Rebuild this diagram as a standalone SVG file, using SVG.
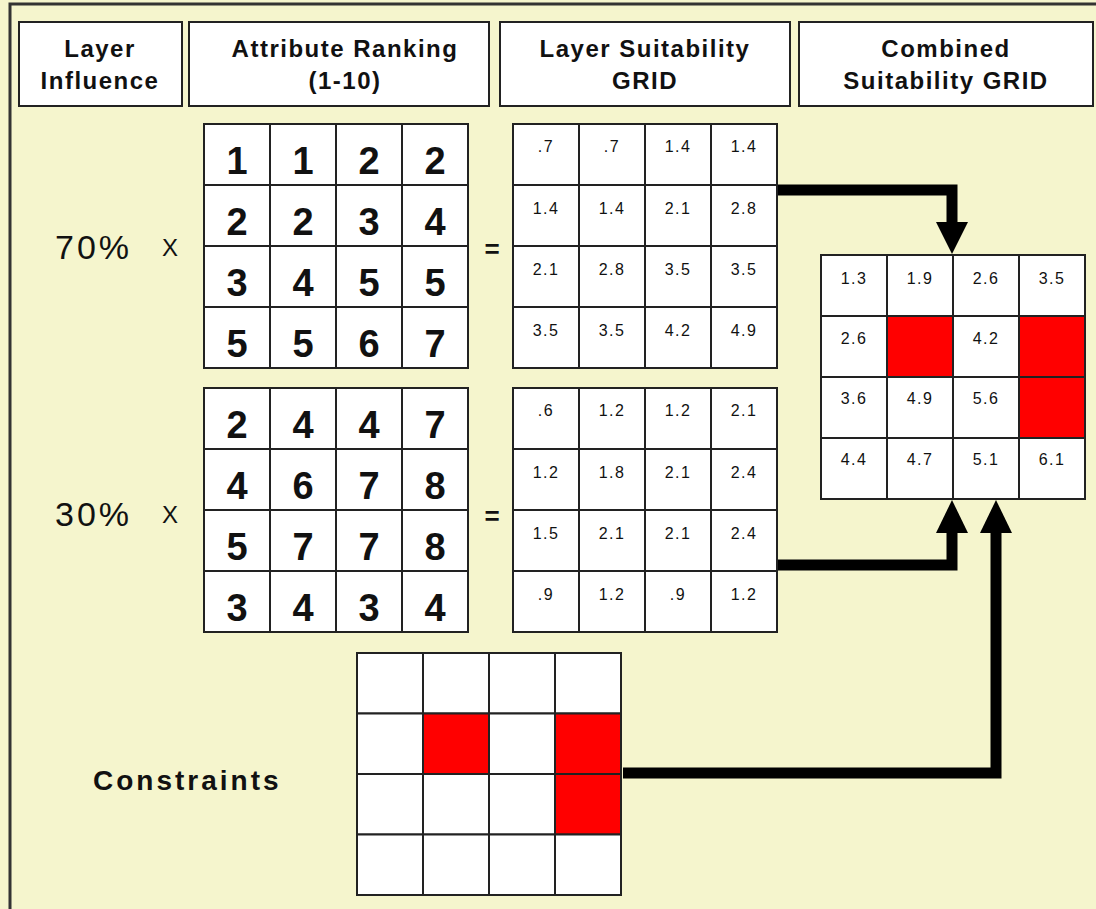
<svg xmlns="http://www.w3.org/2000/svg" width="1096" height="909" viewBox="0 0 1096 909">
<defs>
<style>
.hdr{fill:#fff;stroke:#222;stroke-width:2}
.ht{font-family:"Liberation Sans",Arial,sans-serif;font-weight:bold;font-size:24px;letter-spacing:1.5px;fill:#111;text-anchor:middle}
.cell{fill:#fff;stroke:#222;stroke-width:2}
.red{fill:#ff0000;stroke:#222;stroke-width:2}
.big{font-family:"Liberation Sans",Arial,sans-serif;font-weight:bold;font-size:38px;fill:#111;text-anchor:middle}
.sm{font-family:"Liberation Sans",Arial,sans-serif;font-size:16px;letter-spacing:1.5px;fill:#111;text-anchor:middle}
.lbl{font-family:"Liberation Sans",Arial,sans-serif;font-size:34px;letter-spacing:3px;fill:#111}
.op{font-family:"Liberation Sans",Arial,sans-serif;font-size:24px;fill:#111}
.eq{font-family:"Liberation Sans",Arial,sans-serif;font-weight:bold;font-size:26px;fill:#111;text-anchor:middle}
.con{fill:none;stroke:#000;stroke-width:11;stroke-linejoin:miter}
</style>
</defs>
<rect x="0" y="0" width="1096" height="909" fill="#f5f5cd"/>
<path d="M10 909 V4 H1096" fill="none" stroke="#333" stroke-width="3"/>

<g id="header-layer-influence">
<rect class="hdr" x="19" y="22" width="163" height="84"/>
<text class="ht" x="100" y="57">Layer</text>
<text class="ht" x="100" y="89">Influence</text>
</g>
<g id="header-attribute-ranking">
<rect class="hdr" x="189" y="22" width="300" height="84"/>
<text class="ht" x="345" y="57">Attribute Ranking</text>
<text class="ht" x="345" y="89">(1-10)</text>
</g>
<g id="header-layer-suitability">
<rect class="hdr" x="500" y="22" width="290" height="84"/>
<text class="ht" x="645" y="57">Layer Suitability</text>
<text class="ht" x="645" y="89">GRID</text>
</g>
<g id="header-combined">
<rect class="hdr" x="799" y="22" width="294" height="84"/>
<text class="ht" x="946" y="57">Combined</text>
<text class="ht" x="946" y="89">Suitability GRID</text>
</g>

<g id="label-70">
<text class="lbl" x="55" y="259">70%</text>
<text class="op" x="162" y="256">X</text>
</g>
<g id="label-30">
<text class="lbl" x="55" y="526">30%</text>
<text class="op" x="162" y="523">X</text>
</g>
<g id="label-constraints">
<text class="lbl" x="93" y="790" style="font-weight:bold;font-size:28px">Constraints</text>
</g>
<g id="eq1"><text class="eq" x="492" y="258">=</text></g>
<g id="eq2"><text class="eq" x="492" y="525">=</text></g>

<g id="grid-rank-70">
<rect class="cell" x="204" y="124" width="66" height="61"/><rect class="cell" x="270" y="124" width="66" height="61"/><rect class="cell" x="336" y="124" width="66" height="61"/><rect class="cell" x="402" y="124" width="66" height="61"/>
<rect class="cell" x="204" y="185" width="66" height="61"/><rect class="cell" x="270" y="185" width="66" height="61"/><rect class="cell" x="336" y="185" width="66" height="61"/><rect class="cell" x="402" y="185" width="66" height="61"/>
<rect class="cell" x="204" y="246" width="66" height="61"/><rect class="cell" x="270" y="246" width="66" height="61"/><rect class="cell" x="336" y="246" width="66" height="61"/><rect class="cell" x="402" y="246" width="66" height="61"/>
<rect class="cell" x="204" y="307" width="66" height="61"/><rect class="cell" x="270" y="307" width="66" height="61"/><rect class="cell" x="336" y="307" width="66" height="61"/><rect class="cell" x="402" y="307" width="66" height="61"/>
<text class="big" x="237" y="174">1</text><text class="big" x="303" y="174">1</text><text class="big" x="369" y="174">2</text><text class="big" x="435" y="174">2</text>
<text class="big" x="237" y="235">2</text><text class="big" x="303" y="235">2</text><text class="big" x="369" y="235">3</text><text class="big" x="435" y="235">4</text>
<text class="big" x="237" y="296">3</text><text class="big" x="303" y="296">4</text><text class="big" x="369" y="296">5</text><text class="big" x="435" y="296">5</text>
<text class="big" x="237" y="357">5</text><text class="big" x="303" y="357">5</text><text class="big" x="369" y="357">6</text><text class="big" x="435" y="357">7</text>
</g>

<g id="grid-rank-30">
<rect class="cell" x="204" y="388" width="66" height="61"/><rect class="cell" x="270" y="388" width="66" height="61"/><rect class="cell" x="336" y="388" width="66" height="61"/><rect class="cell" x="402" y="388" width="66" height="61"/>
<rect class="cell" x="204" y="449" width="66" height="61"/><rect class="cell" x="270" y="449" width="66" height="61"/><rect class="cell" x="336" y="449" width="66" height="61"/><rect class="cell" x="402" y="449" width="66" height="61"/>
<rect class="cell" x="204" y="510" width="66" height="61"/><rect class="cell" x="270" y="510" width="66" height="61"/><rect class="cell" x="336" y="510" width="66" height="61"/><rect class="cell" x="402" y="510" width="66" height="61"/>
<rect class="cell" x="204" y="571" width="66" height="61"/><rect class="cell" x="270" y="571" width="66" height="61"/><rect class="cell" x="336" y="571" width="66" height="61"/><rect class="cell" x="402" y="571" width="66" height="61"/>
<text class="big" x="237" y="438">2</text><text class="big" x="303" y="438">4</text><text class="big" x="369" y="438">4</text><text class="big" x="435" y="438">7</text>
<text class="big" x="237" y="499">4</text><text class="big" x="303" y="499">6</text><text class="big" x="369" y="499">7</text><text class="big" x="435" y="499">8</text>
<text class="big" x="237" y="560">5</text><text class="big" x="303" y="560">7</text><text class="big" x="369" y="560">7</text><text class="big" x="435" y="560">8</text>
<text class="big" x="237" y="621">3</text><text class="big" x="303" y="621">4</text><text class="big" x="369" y="621">3</text><text class="big" x="435" y="621">4</text>
</g>

<g id="grid-suit-70">
<rect class="cell" x="513" y="124" width="66" height="61"/><rect class="cell" x="579" y="124" width="66" height="61"/><rect class="cell" x="645" y="124" width="66" height="61"/><rect class="cell" x="711" y="124" width="66" height="61"/>
<rect class="cell" x="513" y="185" width="66" height="61"/><rect class="cell" x="579" y="185" width="66" height="61"/><rect class="cell" x="645" y="185" width="66" height="61"/><rect class="cell" x="711" y="185" width="66" height="61"/>
<rect class="cell" x="513" y="246" width="66" height="61"/><rect class="cell" x="579" y="246" width="66" height="61"/><rect class="cell" x="645" y="246" width="66" height="61"/><rect class="cell" x="711" y="246" width="66" height="61"/>
<rect class="cell" x="513" y="307" width="66" height="61"/><rect class="cell" x="579" y="307" width="66" height="61"/><rect class="cell" x="645" y="307" width="66" height="61"/><rect class="cell" x="711" y="307" width="66" height="61"/>
<text class="sm" x="546" y="152">.7</text><text class="sm" x="612" y="152">.7</text><text class="sm" x="678" y="152">1.4</text><text class="sm" x="744" y="152">1.4</text>
<text class="sm" x="546" y="214">1.4</text><text class="sm" x="612" y="214">1.4</text><text class="sm" x="678" y="214">2.1</text><text class="sm" x="744" y="214">2.8</text>
<text class="sm" x="546" y="275">2.1</text><text class="sm" x="612" y="275">2.8</text><text class="sm" x="678" y="275">3.5</text><text class="sm" x="744" y="275">3.5</text>
<text class="sm" x="546" y="336">3.5</text><text class="sm" x="612" y="336">3.5</text><text class="sm" x="678" y="336">4.2</text><text class="sm" x="744" y="336">4.9</text>
</g>

<g id="grid-suit-30">
<rect class="cell" x="513" y="388" width="66" height="61"/><rect class="cell" x="579" y="388" width="66" height="61"/><rect class="cell" x="645" y="388" width="66" height="61"/><rect class="cell" x="711" y="388" width="66" height="61"/>
<rect class="cell" x="513" y="449" width="66" height="61"/><rect class="cell" x="579" y="449" width="66" height="61"/><rect class="cell" x="645" y="449" width="66" height="61"/><rect class="cell" x="711" y="449" width="66" height="61"/>
<rect class="cell" x="513" y="510" width="66" height="61"/><rect class="cell" x="579" y="510" width="66" height="61"/><rect class="cell" x="645" y="510" width="66" height="61"/><rect class="cell" x="711" y="510" width="66" height="61"/>
<rect class="cell" x="513" y="571" width="66" height="61"/><rect class="cell" x="579" y="571" width="66" height="61"/><rect class="cell" x="645" y="571" width="66" height="61"/><rect class="cell" x="711" y="571" width="66" height="61"/>
<text class="sm" x="546" y="416">.6</text><text class="sm" x="612" y="416">1.2</text><text class="sm" x="678" y="416">1.2</text><text class="sm" x="744" y="416">2.1</text>
<text class="sm" x="546" y="478">1.2</text><text class="sm" x="612" y="478">1.8</text><text class="sm" x="678" y="478">2.1</text><text class="sm" x="744" y="478">2.4</text>
<text class="sm" x="546" y="539">1.5</text><text class="sm" x="612" y="539">2.1</text><text class="sm" x="678" y="539">2.1</text><text class="sm" x="744" y="539">2.4</text>
<text class="sm" x="546" y="600">.9</text><text class="sm" x="612" y="600">1.2</text><text class="sm" x="678" y="600">.9</text><text class="sm" x="744" y="600">1.2</text>
</g>

<g id="grid-combined">
<rect class="cell" x="821" y="255" width="66" height="61"/><rect class="cell" x="887" y="255" width="66" height="61"/><rect class="cell" x="953" y="255" width="66" height="61"/><rect class="cell" x="1019" y="255" width="66" height="61"/>
<rect class="cell" x="821" y="316" width="66" height="61"/><rect class="red" x="887" y="316" width="66" height="61"/><rect class="cell" x="953" y="316" width="66" height="61"/><rect class="red" x="1019" y="316" width="66" height="61"/>
<rect class="cell" x="821" y="377" width="66" height="61"/><rect class="cell" x="887" y="377" width="66" height="61"/><rect class="cell" x="953" y="377" width="66" height="61"/><rect class="red" x="1019" y="377" width="66" height="61"/>
<rect class="cell" x="821" y="438" width="66" height="61"/><rect class="cell" x="887" y="438" width="66" height="61"/><rect class="cell" x="953" y="438" width="66" height="61"/><rect class="cell" x="1019" y="438" width="66" height="61"/>
<text class="sm" x="854" y="284">1.3</text><text class="sm" x="920" y="284">1.9</text><text class="sm" x="986" y="284">2.6</text><text class="sm" x="1052" y="284">3.5</text>
<text class="sm" x="854" y="344">2.6</text><text class="sm" x="986" y="344">4.2</text>
<text class="sm" x="854" y="404">3.6</text><text class="sm" x="920" y="404">4.9</text><text class="sm" x="986" y="404">5.6</text>
<text class="sm" x="854" y="465">4.4</text><text class="sm" x="920" y="465">4.7</text><text class="sm" x="986" y="465">5.1</text><text class="sm" x="1052" y="465">6.1</text>
</g>

<g id="grid-constraints">
<rect class="cell" x="357" y="653" width="66" height="60.5"/><rect class="cell" x="423" y="653" width="66" height="60.5"/><rect class="cell" x="489" y="653" width="66" height="60.5"/><rect class="cell" x="555" y="653" width="66" height="60.5"/>
<rect class="cell" x="357" y="713.5" width="66" height="60.5"/><rect class="red" x="423" y="713.5" width="66" height="60.5"/><rect class="cell" x="489" y="713.5" width="66" height="60.5"/><rect class="red" x="555" y="713.5" width="66" height="60.5"/>
<rect class="cell" x="357" y="774" width="66" height="60.5"/><rect class="cell" x="423" y="774" width="66" height="60.5"/><rect class="cell" x="489" y="774" width="66" height="60.5"/><rect class="red" x="555" y="774" width="66" height="60.5"/>
<rect class="cell" x="357" y="834.5" width="66" height="60.5"/><rect class="cell" x="423" y="834.5" width="66" height="60.5"/><rect class="cell" x="489" y="834.5" width="66" height="60.5"/><rect class="cell" x="555" y="834.5" width="66" height="60.5"/>
</g>

<g id="connectors">
<path class="con" d="M778 190 H952 V224"/>
<polygon points="936,222 968,222 952,254" fill="#000"/>
<path class="con" d="M778 565 H952 V531"/>
<polygon points="936,533 968,533 952,500" fill="#000"/>
<path class="con" d="M623 773 H996 V531"/>
<polygon points="980,533 1012,533 996,500" fill="#000"/>
</g>
</svg>
